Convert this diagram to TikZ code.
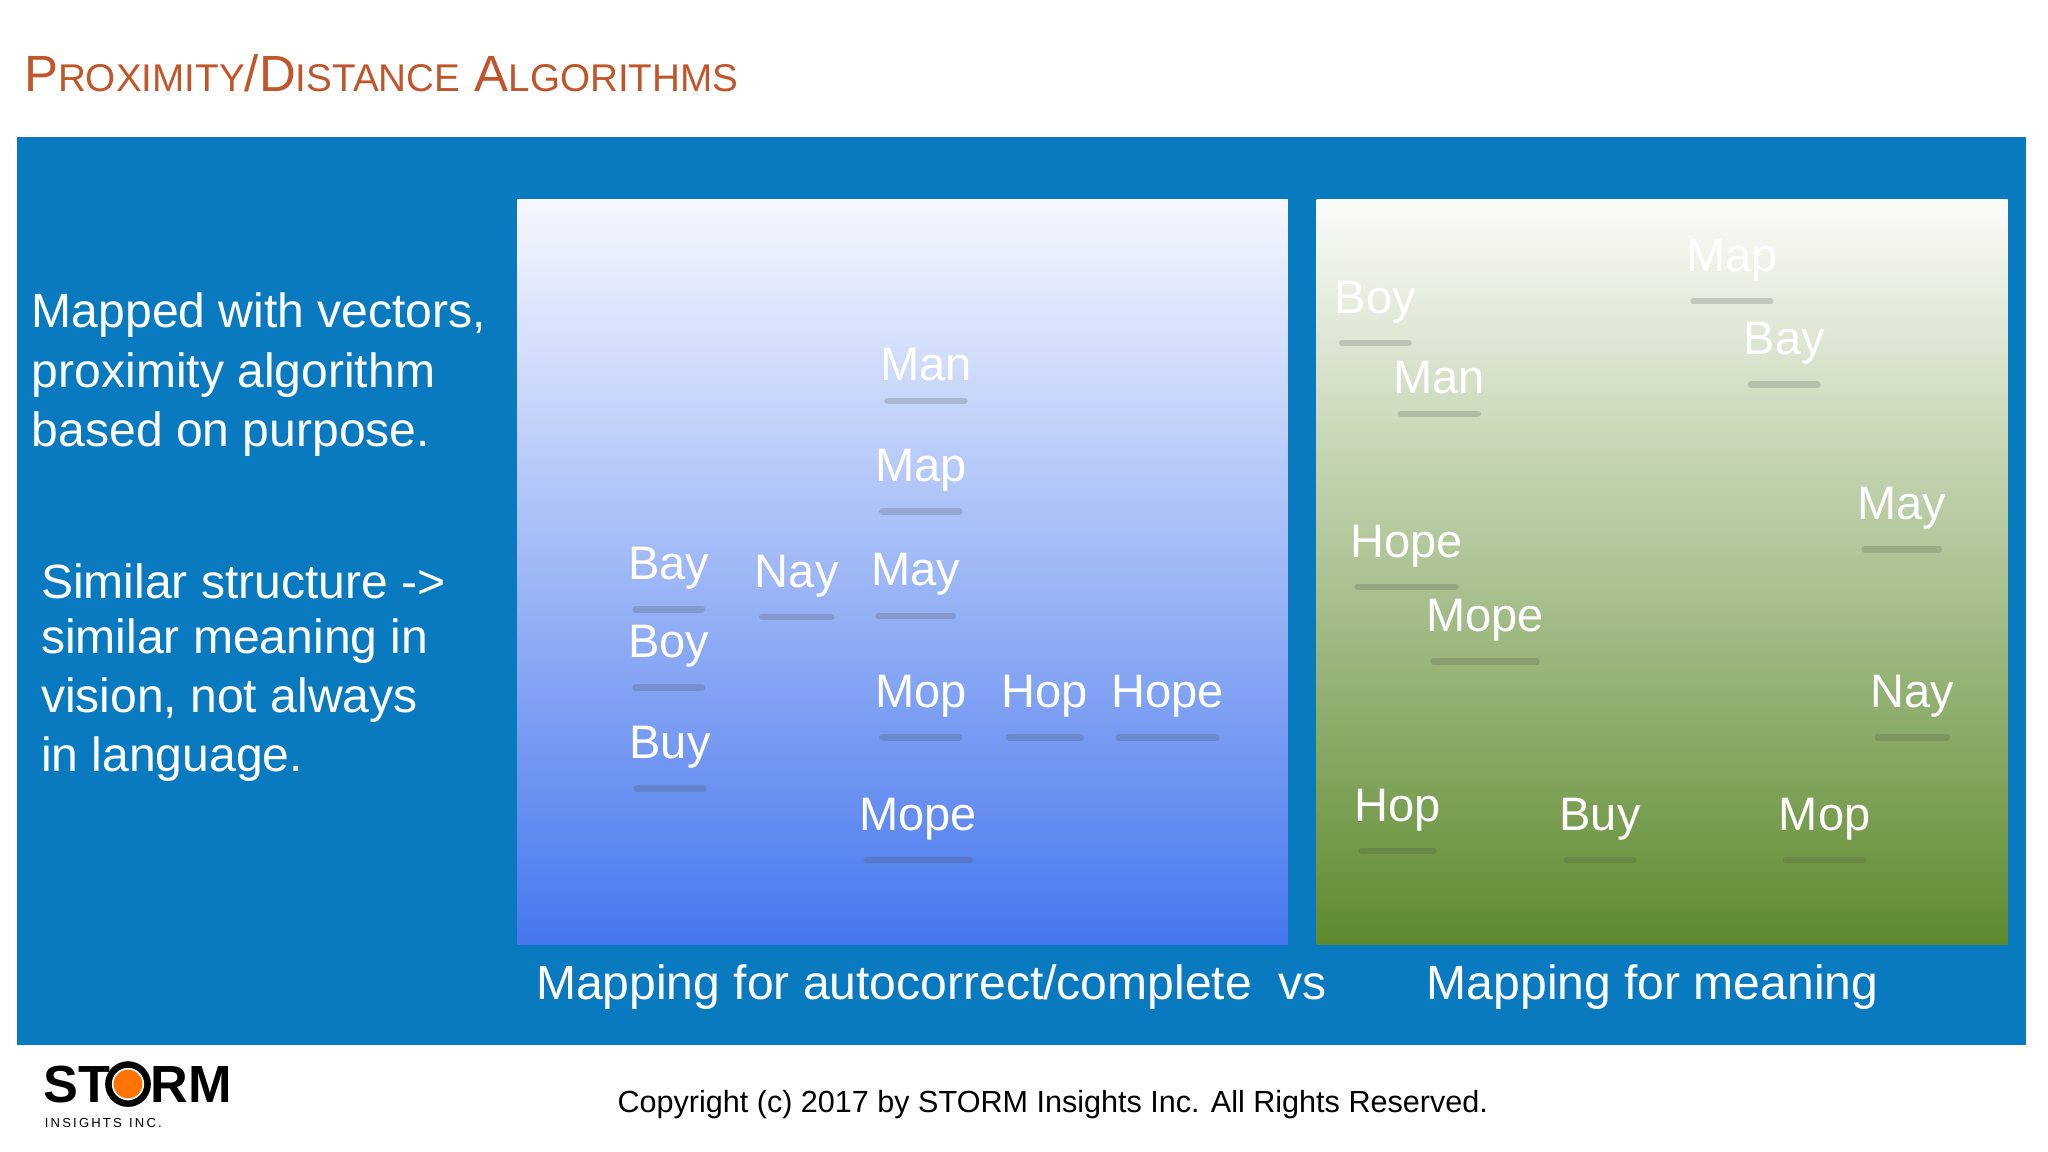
\documentclass[tikz,border=0pt]{standalone}
\usepackage{fontspec}
\setmainfont{Liberation Sans}
\usetikzlibrary{calc}
\definecolor{frame}{HTML}{0A7AC0}
\definecolor{ttl}{HTML}{C0562A}
\definecolor{btop}{HTML}{F6F8FE}
\definecolor{bbot}{HTML}{4677EE}
\definecolor{gtop}{HTML}{FBFCF9}
\definecolor{gbot}{HTML}{5E8A2E}
\tikzset{
 word/.style={text=white,font=\fontsize{18}{21}\selectfont,inner sep=0pt},
 side/.style={text=white,font=\fontsize{18.4}{22}\selectfont,anchor=west,inner sep=0pt},
 shad/.style={line width=2.5pt,draw=black!70,opacity=0.22,line cap=round}
}
\newcommand{\myword}[4]{\node[word] (#1) at (#2,#3+3) {#4};
 \draw[shad] ($(#1.south west)+(6,15)$) -- ($(#1.south east)+(-6,15)$);}
\begin{document}
\begin{tikzpicture}[x=0.5pt,y=-0.5pt]
\useasboundingbox (0,0) rectangle (1568,882);
\fill[white] (0,0) rectangle (1568,882);
\node[anchor=west,text=ttl,inner sep=0pt,font=\fontsize{19.5}{22}\selectfont] (title) at (18,56)
 {P{\fontsize{14.8}{17}\selectfont ROXIMITY}/D{\fontsize{14.8}{17}\selectfont ISTANCE} A{\fontsize{14.8}{17}\selectfont LGORITHMS}};
\fill[frame] (13,105) rectangle (1551,800);
\shade[top color=btop,bottom color=bbot] (396,153) rectangle (986,723);
\shade[top color=gtop,bottom color=gbot] (1008,153) rectangle (1537,723);
\node[side] (l1) at (24,241) {Mapped with vectors,};
\node[side] (l2) at (24,287) {proximity algorithm};
\node[side] (l3) at (24,332) {based on purpose.};
\node[side] (l4) at (31,445) {Similar structure ->};
\node[side] (l5) at (31,491) {similar meaning in};
\node[side] (l6) at (31,536) {vision, not always};
\node[side] (l7) at (31,581) {in language.};
\myword{a1}{709}{276}{Man}
\myword{a2}{705}{357}{Map}
\myword{a3}{512}{432}{Bay}
\myword{a4}{610}{438}{Nay}
\myword{a5}{701}{437}{May}
\myword{a6}{512}{492}{Boy}
\myword{a7}{705}{530}{Mop}
\myword{a8}{800}{530}{Hop}
\myword{a9}{894}{530}{Hope}
\myword{a10}{513}{569}{Buy}
\myword{a11}{703}{624}{Mope}
\myword{b1}{1053}{228}{Boy}
\myword{b2}{1326}{196}{Map}
\myword{b3}{1366}{260}{Bay}
\myword{b4}{1102}{286}{Man}
\myword{b5}{1456}{386}{May}
\myword{b6}{1077}{415}{Hope}
\myword{b7}{1137}{472}{Mope}
\myword{b8}{1464}{530}{Nay}
\myword{b9}{1070}{617}{Hop}
\myword{b10}{1225}{624}{Buy}
\myword{b11}{1397}{624}{Mop}
\node[side] (c1) at (410,756) {Mapping for autocorrect/complete\ \ vs};
\node[side] (c2) at (1092,756) {Mapping for meaning};
\node[inner sep=0pt,font=\fontsize{11.7}{14}\selectfont] (copy) at (806,846) {Copyright (c) 2017 by STORM Insights Inc. All Rights Reserved.};
\node[anchor=west,inner sep=0pt,font=\bfseries\fontsize{20}{22}\selectfont] (st) at (33,830) {ST};
\draw[line width=2.5pt] (98,830) circle (15);
\fill[orange!90!red] (98,830) circle (11);
\node[anchor=west,inner sep=0pt,font=\bfseries\fontsize{20}{22}\selectfont] (rm) at (115,830) {RM};
\node[anchor=west,inner sep=0pt,font=\fontsize{5}{6}\selectfont] (ins) at (34,860) {I\,N\,S\,I\,G\,H\,T\,S\ \ I\,N\,C\,.};
\end{tikzpicture}
\end{document}
